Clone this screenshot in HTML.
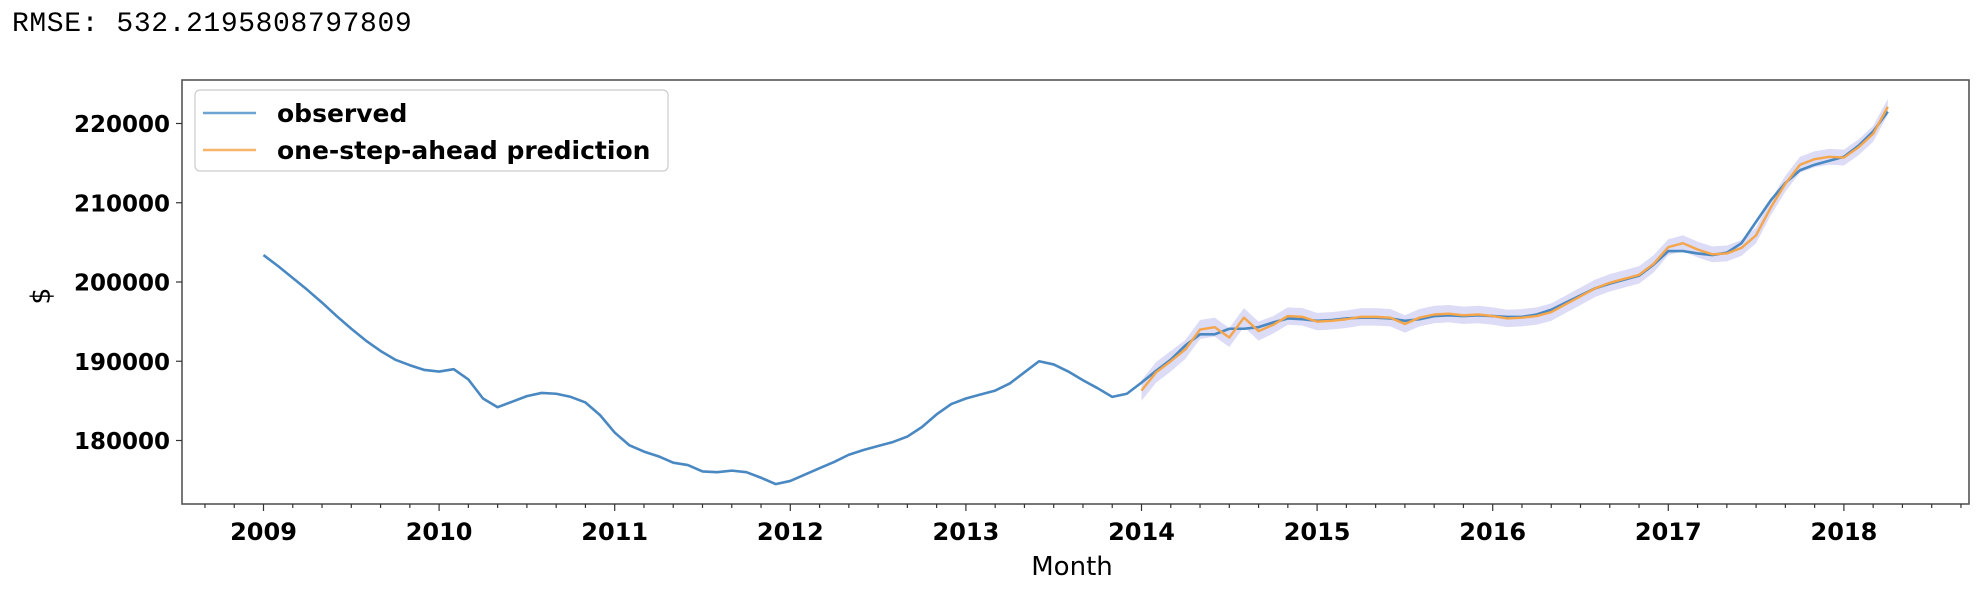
<!DOCTYPE html>
<html><head><meta charset="utf-8"><style>
html,body{margin:0;padding:0;background:#fff;}
svg{display:block;}
</style></head><body>
<svg id="chart" width="1984" height="596" xmlns="http://www.w3.org/2000/svg">
<text x="12" y="31" font-family="Liberation Mono, monospace" font-size="28" letter-spacing="0.6">RMSE:  532.2195808797809</text>
<g id="plot"></g>
</svg>
<script>
const startYear = 2009;
const yTicks = [180000, 190000, 200000, 210000, 220000];
const xTickYears = [2009,2010,2011,2012,2013,2014,2015,2016,2017,2018];
const observed = [
203400,202000,200500,199000,197400,195700,194100,192600,191300,190200,189500,188900,
188700,189000,187700,185300,184200,184900,185600,186000,185900,185500,184800,183200,
181000,179400,178600,178000,177200,176900,176100,176000,176200,176000,175300,174500,
174900,175700,176500,177300,178200,178800,179300,179800,180500,181700,183300,184600,
185300,185800,186300,187200,188600,190000,189600,188700,187600,186600,185500,185900,
187300,188800,190200,192000,193400,193400,194100,194100,194300,194900,195400,195300,
195100,195200,195400,195500,195500,195400,195100,195300,195700,195800,195700,195800,
195700,195600,195600,195900,196500,197400,198300,199200,199800,200300,200800,202200,
203900,203900,203600,203400,203700,204900,207600,210300,212500,214100,214800,215300,
215800,217200,219000,221500];
const obsStartMonth = 0;
const predStartMonth = 60;
const predicted = [
186300,188600,190000,191500,194000,194300,193000,195500,193800,194600,195700,195600,
195000,195100,195300,195600,195600,195500,194700,195500,195900,196000,195800,195900,
195700,195400,195500,195700,196200,197200,198200,199200,199900,200400,200900,202300,
204400,204900,204100,203500,203600,204300,205900,209400,212400,214800,215500,215800,
215700,217000,218700,222100];
const ciHalf = [
1300,1300,1300,1200,1200,1200,1200,1200,1200,1100,1100,1100,
1100,1100,1100,1100,1100,1100,1100,1100,1100,1100,1100,1100,
1100,1100,1100,1100,1100,1100,1100,1100,1100,1100,1100,1100,
1000,1000,1000,1000,1000,1000,1000,1000,1000,1000,1000,1000,
1000,1000,1000,1000];

const L=182,R=1969,T=80,B=504;
const monthX0=263.5, monthW=175.6/12;
const xOf = m => monthX0 + m*monthW;
const yOf = v => 440.5 - (v-180000)/10000*79.25;
const NS="http://www.w3.org/2000/svg";
const g=document.getElementById('plot');
function mk(tag, attrs){const e=document.createElementNS(NS,tag);for(const k in attrs)e.setAttribute(k,attrs[k]);g.appendChild(e);return e;}

let up=[],lo=[];
predicted.forEach((v,i)=>{const m=predStartMonth+i;up.push(xOf(m)+','+yOf(v+ciHalf[i]));lo.unshift(xOf(m)+','+yOf(v-ciHalf[i]));});
const band=mk('polygon',{points:up.concat(lo).join(' '),fill:'#dcdcf7',stroke:'none'});



const obsLine=mk('polyline',{points:observed.map((v,i)=>xOf(obsStartMonth+i)+','+yOf(v)).join(' '),fill:'none',stroke:'#4a88c2','stroke-width':2.6,'stroke-linejoin':'round'});



const predLine=mk('polyline',{points:predicted.map((v,i)=>xOf(predStartMonth+i)+','+yOf(v)).join(' '),fill:'none',stroke:'#f5a54a','stroke-width':2.4,'stroke-linejoin':'round'});



const frame=mk('rect',{x:L,y:T,width:R-L,height:B-T,fill:'none',stroke:'#555','stroke-width':1.6});



yTicks.forEach(v=>{
  const y=yOf(v);
  const t=mk('line',{x1:L-6,x2:L,y1:y,y2:y,stroke:'#333','stroke-width':1.2});
  
  
  const lb=mk('text',{x:L-12,y:y+8.5,'text-anchor':'end','font-family':'DejaVu Sans, sans-serif','font-weight':'bold','font-size':23});
  lb.textContent=v;
  
  
});
for(let m=-6;m<=120;m+=2){
  const x=xOf(m); if(x<L||x>R) continue;
  const major = m%12===0;
  const t=mk('line',{x1:x,x2:x,y1:B,y2:B+(major?7:4),stroke:'#333','stroke-width':1.2});
  
  
}
xTickYears.forEach(yr=>{
  const x=xOf((yr-startYear)*12);
  const lb=mk('text',{x:x,y:B+36,'text-anchor':'middle','font-family':'DejaVu Sans, sans-serif','font-weight':'bold','font-size':24});
  lb.textContent=yr;
  
  
});
const xt=mk('text',{x:1072,y:575,'text-anchor':'middle','font-family':'DejaVu Sans, sans-serif','font-size':26});
xt.textContent='Month';


const yt=mk('text',{x:0,y:0,transform:'translate(50,296) rotate(-90)','text-anchor':'middle','font-family':'DejaVu Sans, sans-serif','font-size':27});
yt.textContent='$';



const lg=mk('rect',{x:195,y:90,width:473,height:81,rx:5,fill:'#fff','fill-opacity':0.85,stroke:'#ccc','stroke-width':1.2});


[['observed','#6fa3d2',113],['one-step-ahead prediction','#f8b46a',150]].forEach(([txt,c,y])=>{
  const ln=mk('line',{x1:203,x2:256,y1:y,y2:y,stroke:c,'stroke-width':2.6});
  
  
  const tx=mk('text',{x:277,y:y+9,'font-family':'DejaVu Sans, sans-serif','font-weight':'bold','font-size':25});
  tx.textContent=txt;
  
  
});
</script>
</body></html>
